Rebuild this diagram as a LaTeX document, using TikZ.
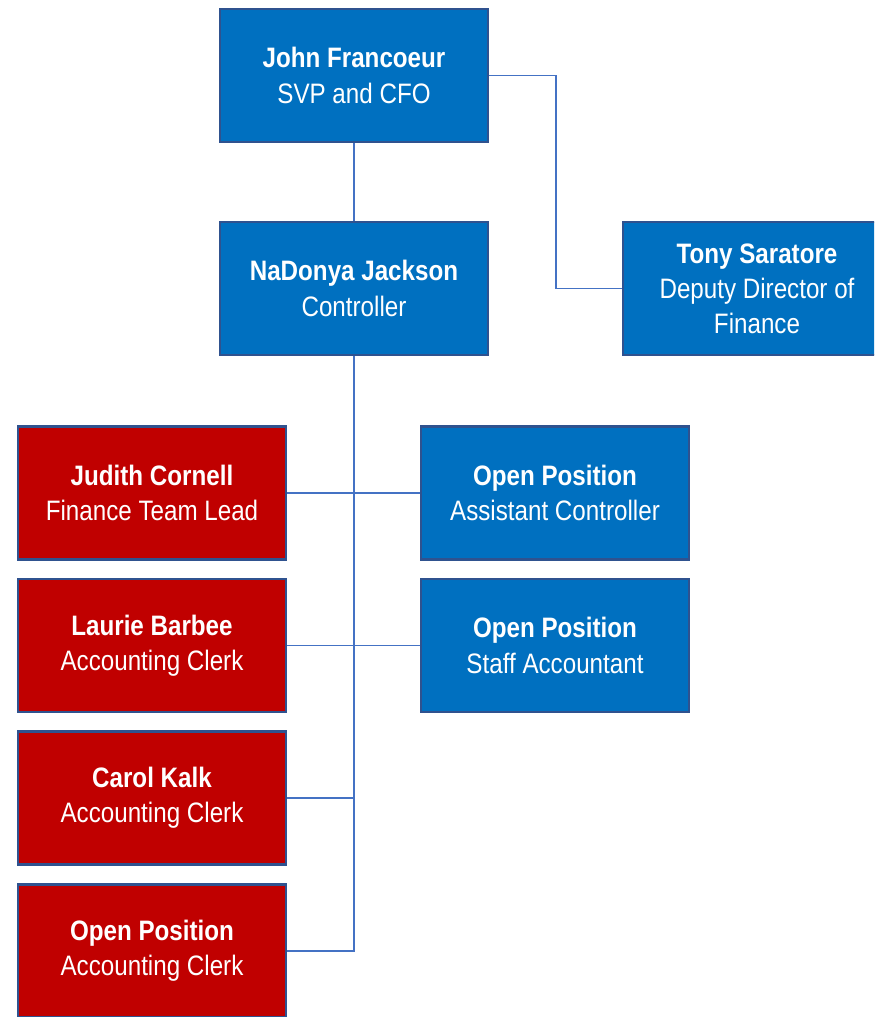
\documentclass[tikz,border=0pt]{standalone}
\usepackage{fontspec}
\setmainfont[FakeStretch=0.86]{Liberation Sans}
\usepackage{tikz}
\usetikzlibrary{positioning}

\definecolor{boxblue}{HTML}{0070C0}
\definecolor{boxred}{HTML}{C00000}
\definecolor{boxline}{HTML}{2F528F}
\definecolor{linkblue}{HTML}{4472C4}

\tikzset{
  person/.style={draw=boxline, line width=1.5pt, rectangle, inner sep=0pt,
    minimum width=6.7cm, minimum height=3.325cm, text=white, align=center,
    font=\fontsize{20}{25}\selectfont},
  bluebox/.style={person, fill=boxblue},
  redbox/.style={person, fill=boxred},
  link/.style={draw=linkblue, line width=0.75pt},
}

\begin{document}
\begin{tikzpicture}[x=0.025cm, y=-0.025cm]
\clip (0,0) rectangle (874,1017);
\node[bluebox] (JF) at (354,75.5) {\textbf{John Francoeur}\\SVP and CFO};
\node[bluebox] (NJ) at (354,288.5) {\textbf{NaDonya Jackson}\\Controller};
\node[bluebox] (TS) at (757,288.5) {\textbf{Tony Saratore}\\Deputy Director of\\Finance};

\node[redbox] (JC) at (152,493) {\textbf{Judith Cornell}\\Finance Team Lead};
\node[redbox] (LB) at (152,645.5) {\textbf{Laurie Barbee}\\Accounting Clerk};
\node[redbox] (CK) at (152,798) {\textbf{Carol Kalk}\\Accounting Clerk};
\node[redbox] (OC) at (152,951) {\textbf{Open Position}\\Accounting Clerk};

\node[bluebox] (AC) at (555,493) {\textbf{Open Position}\\Assistant Controller};
\node[bluebox] (SA) at (555,645.5) {\textbf{Open Position}\\Staff Accountant};

\coordinate (jog) at (556,75.5);

% links
\draw[link] (JF) -- (NJ);
\draw[link] (JF.east) -- (jog) |- (TS.west);
\draw[link] (NJ.south) -- (NJ.south |- OC.east) -- (OC.east);
\draw[link] (JC.east) -- (AC.west);
\draw[link] (LB.east) -- (SA.west);
\draw[link] (CK.east) -- (NJ.south |- CK.east);

\end{tikzpicture}
\end{document}
